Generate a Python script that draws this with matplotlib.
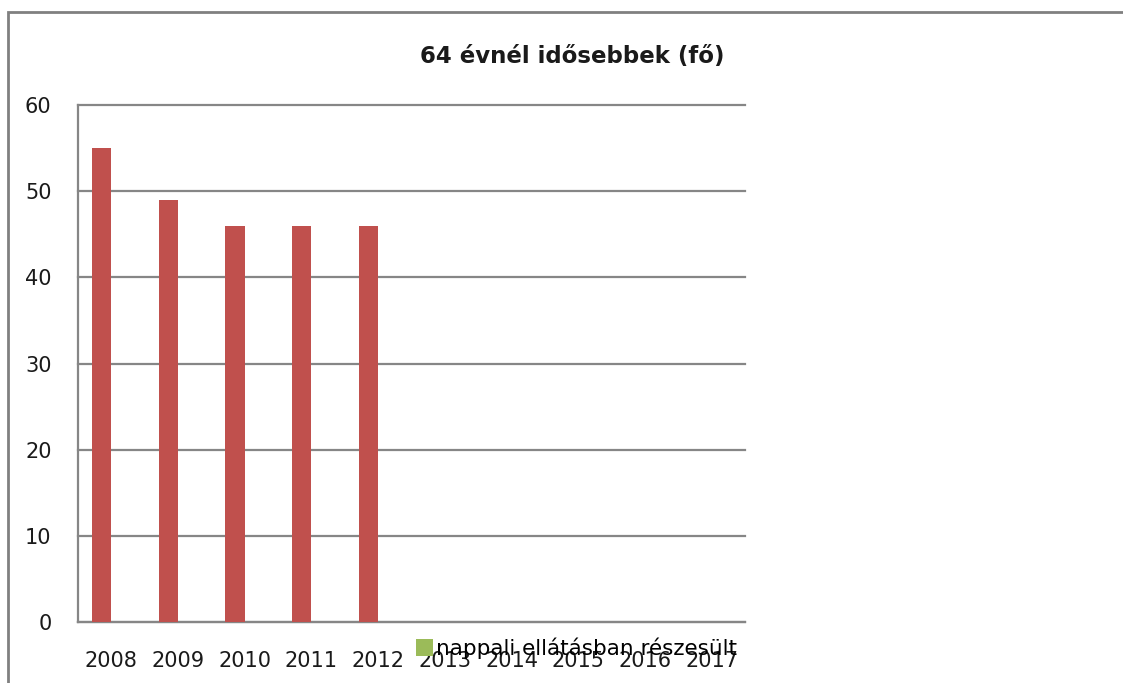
import numpy as np
import matplotlib
matplotlib.use('Agg')
import matplotlib.pyplot as plt
from matplotlib.patches import Rectangle

# ── Adatok ──────────────────────────────────────────────────────────────────
YEARS      = ['2008', '2009', '2010', '2011', '2012',
              '2013', '2014', '2015', '2016', '2017']
IDOSEBBEK  = [55, 49, 46, 46, 46]          # 2008-2012, utána nincs adat
NAPPALI    = [np.nan] * len(YEARS)         # üres sorozat, csak a jelmagyarázatban
TITLE      = '64 évnél idősebbek (fő)'
LEG_LABEL  = 'nappali ellátásban részesült'
Y_TICKS    = [0, 10, 20, 30, 40, 50, 60]

# ── Stílus ──────────────────────────────────────────────────────────────────
C_RED   = '#C0504D'
C_GREEN = '#9BBB59'
C_GRID  = '#868686'
C_TEXT  = '#1a1a1a'
W, H, DPI = 11.23, 6.83, 100
BAR_W = 0.29

plt.rcParams['font.family'] = ['DejaVu Sans']

fig = plt.figure(figsize=(W, H), dpi=DPI)
fig.patch.set_facecolor('white')

# külső keret (jobbra és lefelé kilóg a képből)
fig.patches.append(Rectangle((8 / 1123, -0.2), 2.0, 1.2 - 12 / 683,
                             transform=fig.transFigure, fill=False,
                             edgecolor='#808080', linewidth=2))

ax = fig.add_axes([78 / 1123, 61 / 683, 667 / 1123, 517 / 683])

x = np.arange(len(YEARS))
ax.bar(x[:len(IDOSEBBEK)] - BAR_W / 2, IDOSEBBEK, width=BAR_W,
       color=C_RED, zorder=3)
leg_bars = ax.bar(x + BAR_W / 2, NAPPALI, width=BAR_W, color=C_GREEN,
                  label=LEG_LABEL, zorder=3)

ax.set_xlim(-0.5, len(YEARS) - 0.5)
ax.set_ylim(0, 60)
ax.set_yticks(Y_TICKS)
ax.set_xticks(x)
ax.set_xticklabels(YEARS)
ax.tick_params(axis='both', length=0, labelsize=15, colors=C_TEXT)
ax.tick_params(axis='y', pad=19)
ax.tick_params(axis='x', pad=21)

ax.yaxis.grid(True, color=C_GRID, linewidth=1.6, zorder=0)
for gl in ax.get_ygridlines():
    gl.set_clip_on(False)
ax.set_axisbelow(True)
for side in ('top', 'right'):
    ax.spines[side].set_visible(False)
for side in ('left', 'bottom'):
    ax.spines[side].set_color(C_GRID)
    ax.spines[side].set_linewidth(1.6)

fig.text(572 / 1123, 1 - 57 / 683, TITLE, ha='center', va='center',
         fontsize=16.5, fontweight='bold', color=C_TEXT)

fig.legend(handles=[leg_bars], labels=[LEG_LABEL], loc='center left',
           bbox_to_anchor=(416 / 1123, 1 - 648 / 683), frameon=False,
           fontsize=15.5, handlelength=0.8, handleheight=0.8,
           handletextpad=0.15, borderaxespad=0, borderpad=0)

plt.savefig('out.png', dpi=DPI, facecolor='white')
plt.close(fig)
